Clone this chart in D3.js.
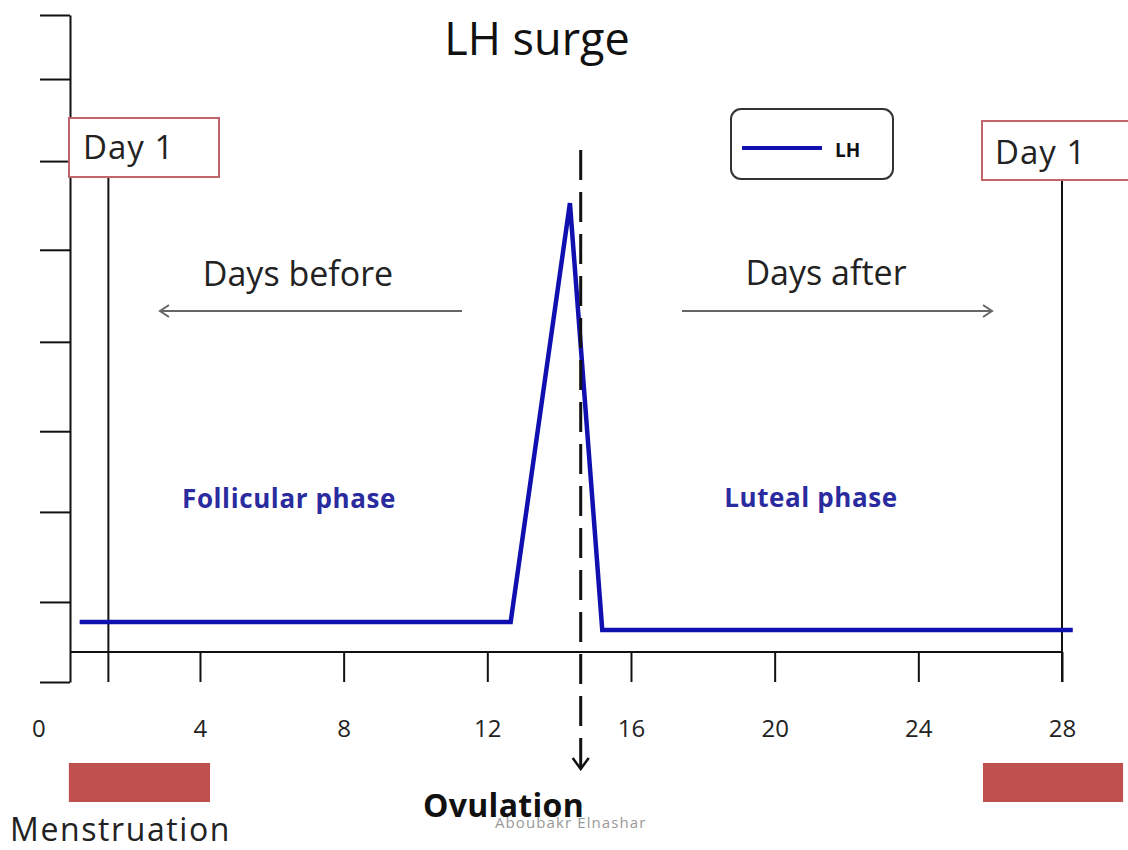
<!DOCTYPE html>
<html>
<head>
<meta charset="utf-8">
<script src="https://cdn.jsdelivr.net/npm/d3@7"></script>
<style>
  body { margin: 0; background: #fff; }
  text { font-family: "Open Sans", "Noto Sans", sans-serif; }
</style>
</head>
<body>
<script>
// LH curve over the cycle (day, level)
var lhDays = [0.65, 12.65, 14.3, 15.2, 28.3]
var lhLevels = [9, 9, 71.8, 7.8, 7.8]

var xTicks = [0, 4, 8, 12, 16, 20, 24, 28]
var yTicks = [0, 12, 25.5, 37.6, 51, 64.8, 78.1, 90.4, 100]

var dayOneMarks = [1.45, 28]
var ovulationDay = 14.6
var menses = [[0.35, 4.28], [25.8, 29.7]]

var width = 1128
var height = 850
var axisX = 70      // where the y axis sits
var axisY = 652     // where the x axis sits

var svg = d3.select('body')
    .append('svg')
    .attr('width', width)
    .attr('height', height)

var x = d3.scaleLinear()
    .domain([0, 28])
    .range([56.3, 1062])

var y = d3.scaleLinear()
    .domain([0, 100])
    .range([682, 15])

var blue = '#1010b0'
var red = '#c0504d'

// y axis: ticks only, no labels
var yAxis = d3.axisLeft(y)
    .tickValues(yTicks)
    .tickSize(30)
    .tickSizeOuter(0)
    .tickFormat('')

var yAxisGroup = svg.append('g')
    .attr('transform', 'translate(' + axisX + ',0)')
    .call(yAxis)
yAxisGroup.selectAll('path, line').attr('stroke', '#111').attr('stroke-width', 2)

// x axis
var xAxis = d3.axisBottom(x)
    .tickValues(xTicks)
    .tickSize(30)
    .tickSizeOuter(0)

var xAxisGroup = svg.append('g')
    .attr('transform', 'translate(0,' + axisY + ')')
    .call(xAxis)
xAxisGroup.select('.domain').remove()
xAxisGroup.selectAll('line').attr('stroke', '#111').attr('stroke-width', 2)
xAxisGroup.selectAll('.tick').filter(d => d == 0).select('line').remove()
xAxisGroup.selectAll('text')
    .attr('y', 85)
    .attr('dy', 0)
    .attr('dx', d => d == 0 ? -18 : 0)
    .attr('fill', '#222')
    .style('font-size', '24px')
    .style('font-family', '"Open Sans", sans-serif')

svg.append('line')
    .attr('x1', axisX).attr('x2', x(28))
    .attr('y1', axisY).attr('y2', axisY)
    .attr('stroke', '#111').attr('stroke-width', 2)

// markers for arrows
var defs = svg.append('defs')
defs.append('marker')
    .attr('id', 'greyHead')
    .attr('viewBox', '-10 -8 12 16')
    .attr('refX', 0).attr('refY', 0)
    .attr('markerWidth', 12).attr('markerHeight', 16)
    .attr('markerUnits', 'userSpaceOnUse')
    .attr('orient', 'auto')
    .append('path')
    .attr('d', 'M-9,-6L0,0L-9,6')
    .attr('fill', 'none').attr('stroke', '#666').attr('stroke-width', 2)
defs.append('marker')
    .attr('id', 'blackHead')
    .attr('viewBox', '-12 -10 14 20')
    .attr('refX', 0).attr('refY', 0)
    .attr('markerWidth', 14).attr('markerHeight', 20)
    .attr('markerUnits', 'userSpaceOnUse')
    .attr('orient', 'auto')
    .append('path')
    .attr('d', 'M-11,-8L0,0L-11,8')
    .attr('fill', 'none').attr('stroke', '#111').attr('stroke-width', 2.5)

// Day 1 vertical lines and boxes
svg.selectAll('.dayLine')
    .data(dayOneMarks)
    .enter()
    .append('line')
    .attr('x1', d => x(d)).attr('x2', d => x(d))
    .attr('y1', 178).attr('y2', 682)
    .attr('stroke', '#111').attr('stroke-width', 2)

var dayBoxes = svg.selectAll('.dayBox')
    .data(dayOneMarks)
    .enter()
    .append('g')
dayBoxes.append('rect')
    .attr('x', (d, i) => i == 0 ? 69 : 982)
    .attr('y', (d, i) => i == 0 ? 118 : 121)
    .attr('width', (d, i) => i == 0 ? 150 : 170)
    .attr('height', 59)
    .attr('fill', '#fff')
    .attr('stroke', '#c0666a')
    .attr('stroke-width', 2)
dayBoxes.append('text')
    .attr('x', (d, i) => i == 0 ? 83 : 995)
    .attr('y', (d, i) => i == 0 ? 159 : 164)
    .attr('fill', '#222')
    .style('font-size', '33px')
    .style('letter-spacing', '1px')
    .text('Day 1')

// LH line
var lhData = lhDays.map((d, i) => ({ day: d, level: lhLevels[i] }))
var line = d3.line()
    .x(d => x(d.day))
    .y(d => y(d.level))
svg.append('path')
    .datum(lhData)
    .attr('fill', 'none')
    .attr('stroke', blue)
    .attr('stroke-width', 4.5)
    .attr('stroke-linejoin', 'miter')
    .attr('d', line)

// ovulation dashed arrow
svg.append('line')
    .attr('x1', x(ovulationDay)).attr('x2', x(ovulationDay))
    .attr('y1', 150).attr('y2', 769)
    .attr('stroke', '#111')
    .attr('stroke-width', 3)
    .attr('stroke-dasharray', '30,12')
    .attr('marker-end', 'url(#blackHead)')

// day before / after arrows
svg.append('line')
    .attr('x1', 462).attr('x2', 160)
    .attr('y1', 311).attr('y2', 311)
    .attr('stroke', '#666').attr('stroke-width', 2)
    .attr('marker-end', 'url(#greyHead)')
svg.append('line')
    .attr('x1', 682).attr('x2', 992)
    .attr('y1', 311).attr('y2', 311)
    .attr('stroke', '#666').attr('stroke-width', 2)
    .attr('marker-end', 'url(#greyHead)')

svg.append('text')
    .attr('x', 298).attr('y', 286)
    .attr('text-anchor', 'middle')
    .attr('fill', '#222')
    .style('font-size', '34px')
    .text('Days before')
svg.append('text')
    .attr('x', 826).attr('y', 285)
    .attr('text-anchor', 'middle')
    .attr('fill', '#222')
    .style('font-size', '34px')
    .text('Days after')

// phase labels
svg.append('text')
    .attr('x', 289).attr('y', 508)
    .attr('text-anchor', 'middle')
    .attr('fill', '#2b2ba0')
    .style('font-size', '26px')
    .style('font-weight', 'bold')
    .style('letter-spacing', '0.6px')
    .text('Follicular phase')
svg.append('text')
    .attr('x', 811).attr('y', 507)
    .attr('text-anchor', 'middle')
    .attr('fill', '#2b2ba0')
    .style('font-size', '26px')
    .style('font-weight', 'bold')
    .style('letter-spacing', '0.6px')
    .text('Luteal phase')

// title
svg.append('text')
    .attr('x', 537).attr('y', 55)
    .attr('text-anchor', 'middle')
    .attr('fill', '#111')
    .style('font-size', '45px')
    .text('LH surge')

// legend
svg.append('rect')
    .attr('x', 731).attr('y', 109)
    .attr('width', 162).attr('height', 70)
    .attr('rx', 10)
    .attr('fill', '#fff')
    .attr('stroke', '#333').attr('stroke-width', 2)
svg.append('line')
    .attr('x1', 742).attr('x2', 822)
    .attr('y1', 148).attr('y2', 148)
    .attr('stroke', blue).attr('stroke-width', 4)
svg.append('text')
    .attr('x', 835).attr('y', 157)
    .attr('fill', '#111')
    .style('font-size', '19px')
    .style('font-weight', 'bold')
    .text('LH')

// menstruation bars
svg.selectAll('.menses')
    .data(menses)
    .enter()
    .append('rect')
    .attr('x', d => x(d[0]))
    .attr('width', d => x(d[1]) - x(d[0]))
    .attr('y', 763)
    .attr('height', 39)
    .attr('fill', red)

svg.append('text')
    .attr('x', 10).attr('y', 841)
    .attr('fill', '#222')
    .style('font-size', '32px')
    .style('letter-spacing', '1.6px')
    .text('Menstruation')

svg.append('text')
    .attr('x', 423).attr('y', 817)
    .attr('fill', '#111')
    .style('font-size', '32px')
    .style('font-weight', 'bold')
    .style('letter-spacing', '0.3px')
    .text('Ovulation')

svg.append('text')
    .attr('x', 495).attr('y', 828)
    .attr('fill', '#999')
    .style('font-size', '15px')
    .style('letter-spacing', '1.1px')
    .text('Aboubakr Elnashar')
</script>
</body>
</html>
